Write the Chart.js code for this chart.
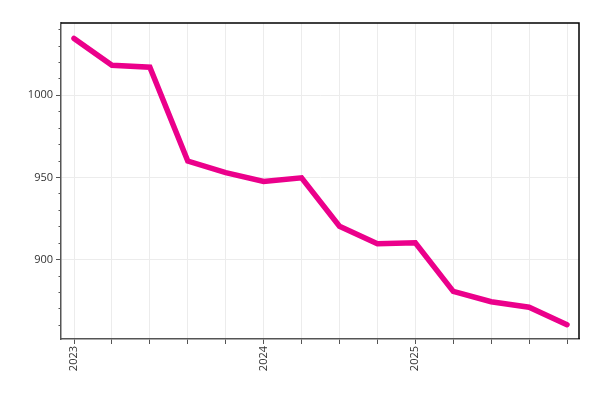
<!DOCTYPE html>
<html>
<head>
<meta charset="utf-8">
<script src="https://cdn.jsdelivr.net/npm/chart.js@4/dist/chart.umd.min.js"></script>
<style>
  html, body { margin: 0; padding: 0; background: #fff; }
  #wrap { width: 600px; height: 400px; }
</style>
</head>
<body>
<div id="wrap"><canvas id="lineChart"></canvas></div>
<script>
const xLabels = ["2023", "", "", "", "", "2024", "", "", "", "2025", "", "", "", ""];
const values = [1034.6, 1018.3, 1017.1, 960.0, 952.9, 947.6, 949.8, 920.3, 909.6, 910.2, 880.7, 874.4, 871.0, 860.4];
const yMajorTicks = [900, 950, 1000];

const axisGray = "#555";
const gridGray = "#ececec";
const textColor = "#333";
const font = { family: "'Open Sans', sans-serif", size: 11 };

// top + right border of the plot box
const frame = {
    id: "frame",
    afterDraw(chart) {
        const { ctx, chartArea: a } = chart;
        ctx.save();
        ctx.strokeStyle = "#000";
        ctx.lineWidth = 1.5;
        ctx.beginPath();
        ctx.moveTo(a.left, a.top);
        ctx.lineTo(a.right, a.top);
        ctx.lineTo(a.right, a.bottom);
        ctx.stroke();
        ctx.restore();
    }
};

const ctx = document.getElementById("lineChart").getContext("2d");
new Chart(ctx, {
    type: "line",
    data: {
        datasets: [{
            data: values.map((v, i) => ({ x: i, y: v })),
            borderColor: "#eb008b",
            borderWidth: 5.5,
            borderCapStyle: "round",
            pointRadius: 0,
            tension: 0,
            fill: false
        }]
    },
    options: {
        responsive: true,
        maintainAspectRatio: false,
        animation: false,
        layout: { padding: { top: 23, right: 21, left: 0, bottom: 0 } },
        plugins: { legend: { display: false }, tooltip: { enabled: false } },
        scales: {
            x: {
                type: "linear",
                min: -0.343,
                max: 13.316,
                afterBuildTicks: s => { s.ticks = xLabels.map((_, i) => ({ value: i })); },
                afterFit: s => { s.height = 61; },
                ticks: {
                    minRotation: 90, maxRotation: 90, padding: 2,
                    color: textColor, font,
                    callback: v => xLabels[v] || ""
                },
                grid: { color: gridGray, tickColor: axisGray, tickLength: 5, lineWidth: 1 },
                border: { color: axisGray, width: 1.5 }
            },
            y: {
                min: 851.7,
                max: 1044,
                weight: 1,
                afterBuildTicks: s => { s.ticks = yMajorTicks.map(v => ({ value: v })); },
                afterFit: s => { s.width = 61; },
                ticks: { color: textColor, font, padding: 3, callback: v => String(v) },
                grid: { color: gridGray, tickColor: axisGray, tickLength: 5, lineWidth: 1 },
                border: { color: axisGray, width: 1.5 }
            },
            yMinor: {
                position: "left",
                min: 851.7,
                max: 1044,
                weight: 0,
                afterFit: s => { s.width = 0; },
                ticks: { stepSize: 10, includeBounds: false, display: false },
                grid: { drawOnChartArea: false, tickColor: axisGray, tickLength: 2.5 },
                border: { display: false }
            }
        }
    },
    plugins: [frame]
});
</script>
</body>
</html>
